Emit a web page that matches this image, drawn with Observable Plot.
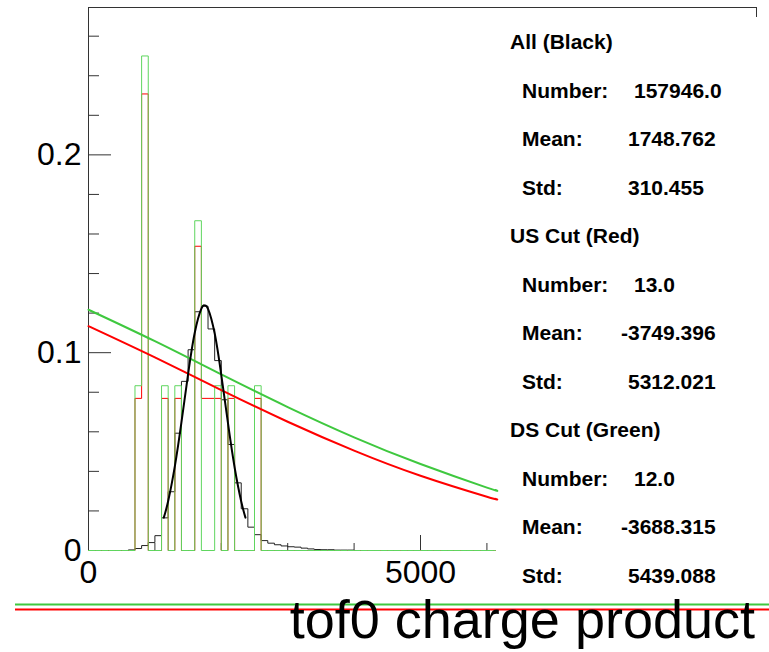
<!DOCTYPE html>
<html><head><meta charset="utf-8">
<script src="https://cdn.jsdelivr.net/npm/d3@7"></script>
<script src="https://cdn.jsdelivr.net/npm/@observablehq/plot@0.6"></script>
<style>
html,body{margin:0;padding:0;background:#fff;overflow:hidden}
#chart{width:769px;height:652px}
</style></head><body><div id="chart"></div>
<script>
// ---- data ----
// "All" (black) histogram, bins of width 100 (bin start -> normalized content)
const allBinStarts = [600,700,800,900,1000,1100,1200,1300,1400,1500,1600,1700,1800,1900,2000,2100,2200,2300,2400,2500,2600,2700,2800,2900,3000,3100,3200,3300,3400,3500,3600,3700,3800,3900];
const allValues = [0.0003,0.001,0.0025,0.004,0.0075,0.0165,0.0297,0.0593,0.0855,0.1015,0.1207,0.1235,0.112,0.096,0.0762,0.0536,0.0342,0.0211,0.0118,0.008,0.005,0.0037,0.0029,0.0023,0.0019,0.0017,0.0012,0.0008,0.0005,0.0004,0.0004,0.0002,0.0002,0.0002];
// US cut (red) histogram
const usBinStarts = [700,800,1100,1300,1600,1700,1800,1900,2100,2500];
const usValues = [0.0769,0.2308,0.0769,0.0769,0.1538,0.0769,0.0769,0.0769,0.0769,0.0769];
// DS cut (green) histogram
const dsBinStarts = [700,800,1100,1300,1600,1900,2100,2500];
const dsValues = [0.0833,0.25,0.0833,0.0833,0.1667,0.0833,0.0833,0.0833];
// fit curves
const allFitX = [1134,1200,1300,1400,1500,1600,1700,1750,1800,1900,2000,2100,2200,2300,2364];
const allFitY = [0.0166,0.025,0.0425,0.0649,0.0892,0.1101,0.1223,0.1239,0.1222,0.1098,0.0887,0.0645,0.0421,0.0248,0.0166];
const usFitX = [0,1000,2000,3000,4000,5000,6000,6130];
const usFitY = [0.1134,0.0976,0.0811,0.0651,0.0505,0.0378,0.0272,0.0261];
const dsFitX = [0,1000,2000,3000,4000,5000,6000,6130];
const dsFitY = [0.1217,0.1058,0.089,0.0725,0.0572,0.0437,0.0318,0.0306];
// axes
const xTicksMajor = [0,5000];
const xTicksMinor = [1000,2000,3000,4000,6000];
const yTicksMajor = [0,0.1,0.2];
const yTicksMinor = [0.02,0.04,0.06,0.08,0.12,0.14,0.16,0.18,0.22,0.24,0.26];
const xDomain = [0,10060];
const yDomain = [0,0.2745];
const xTitle = "tof0 charge product";
// statistics box
const statGroups = ["All (Black)","US Cut (Red)","DS Cut (Green)"];
const statNames = ["Number:","Mean:","Std:"];
const statValues = [["157946.0","1748.762","310.455"],["13.0","-3749.396","5312.021"],["12.0","-3688.315","5439.088"]];

// ---- layout ----
const W = 769, H = 652;
const mL = 88, mR = 13, mT = 7, mB = 102;
const frameW = W - mL - mR, frameH = H - mT - mB;
const xEnd = 6130; // visible end of histograms / fits

function steps(starts, vals, from, to) {
  const m = new Map(starts.map((s,i)=>[s, vals[i]]));
  const pts = [];
  for (let b = from; b < to; b += 100) pts.push({x: b, y: m.get(b) ?? 0});
  pts.push({x: to, y: 0});
  return pts;
}
const allSteps = steps(allBinStarts, allValues, 500, 4100);
const usSteps = steps(usBinStarts, usValues, 0, xEnd);
const dsSteps = steps(dsBinStarts, dsValues, 0, xEnd);
const allFit = allFitX.map((x,i)=>({x, y: allFitY[i]}));
const usFit = usFitX.map((x,i)=>({x, y: usFitY[i]}));
const dsFit = dsFitX.map((x,i)=>({x, y: dsFitY[i]}));

const GREEN_H = "#5fd65f", GREEN_F = "#3fc83f", RED = "#ff0000";
const font = "Liberation Sans, Arial, Helvetica, sans-serif";

const chart = Plot.plot({
  width: W, height: H,
  marginLeft: mL, marginRight: mR, marginTop: mT, marginBottom: mB,
  x: {domain: xDomain}, y: {domain: yDomain},
  style: {fontFamily: font, background: "#fff", color: "#000", overflow: "visible"},
  marks: [
    // frame lines
    Plot.ruleX([0], {stroke: "#333"}),
    Plot.ruleY([yDomain[1]], {stroke: "#333"}),
    Plot.tickX([xDomain[1]], {x: d => d, insetBottom: frameH - 10, stroke: "#333"}),
    // ticks (inside the frame, ROOT style)
    Plot.tickX(xTicksMajor, {x: d => d, insetTop: frameH - 15, stroke: "#333"}),
    Plot.tickX(xTicksMinor, {x: d => d, insetTop: frameH - 7, stroke: "#333"}),
    Plot.tickY(yTicksMajor, {y: d => d, insetRight: frameW - 23, stroke: "#333"}),
    Plot.tickY(yTicksMinor, {y: d => d, insetRight: frameW - 11, stroke: "#333"}),
    Plot.axisX(xTicksMajor, {anchor: "bottom", tickSize: 0, tickPadding: 10, fontSize: 32, tickFormat: d => String(d), label: null}),
    Plot.axisY(yTicksMajor, {anchor: "left", tickSize: 0, tickPadding: 7, fontSize: 32, tickFormat: d => String(d), label: null}),
    // histograms
    Plot.line(allSteps, {x: "x", y: "y", curve: "step-after", stroke: "#222", strokeWidth: 1}),
    Plot.line(usSteps, {x: "x", y: "y", curve: "step-after", stroke: RED, strokeWidth: 1}),
    Plot.line(dsSteps, {x: "x", y: "y", curve: "step-after", stroke: GREEN_H, strokeWidth: 1}),
    // fits
    Plot.line(usFit, {x: "x", y: "y", curve: "natural", stroke: RED, strokeWidth: 2}),
    Plot.line(dsFit, {x: "x", y: "y", curve: "natural", stroke: GREEN_F, strokeWidth: 2}),
    Plot.line(allFit, {x: "x", y: "y", curve: "natural", stroke: "#000", strokeWidth: 2})
  ]
});
document.getElementById("chart").appendChild(chart);

// ---- statistics text, bottom lines and x title ----
const svg = d3.select(chart);
const g = svg.append("g").attr("font-family", font).attr("font-weight", "bold")
  .attr("font-size", 21).attr("fill", "#000").attr("text-anchor", "start");
const rowTop = 49, rowStep = 48.5;
const valueX = [634, 628, 628];
statGroups.forEach((grp, gi) => {
  const r0 = gi * 4;
  g.append("text").attr("x", 510).attr("y", rowTop + r0 * rowStep).text(grp);
  statNames.forEach((nm, ni) => {
    const y = rowTop + (r0 + 1 + ni) * rowStep;
    g.append("text").attr("x", 522).attr("y", y).text(nm);
    const v = statValues[gi][ni];
    g.append("text").attr("x", valueX[ni] - (v.startsWith("-") ? 7 : 0)).attr("y", y).text(v);
  });
});
svg.append("line").attr("x1", 15).attr("x2", W).attr("y1", 604.5).attr("y2", 604.5).attr("stroke", GREEN_F).attr("stroke-width", 2);
svg.append("line").attr("x1", 15).attr("x2", W).attr("y1", 609.5).attr("y2", 609.5).attr("stroke", RED).attr("stroke-width", 2);
svg.append("text").attr("x", 755).attr("y", 638).attr("text-anchor", "end")
  .attr("font-family", font).attr("font-size", 54).attr("fill", "#000").text(xTitle);
</script>
</body></html>
